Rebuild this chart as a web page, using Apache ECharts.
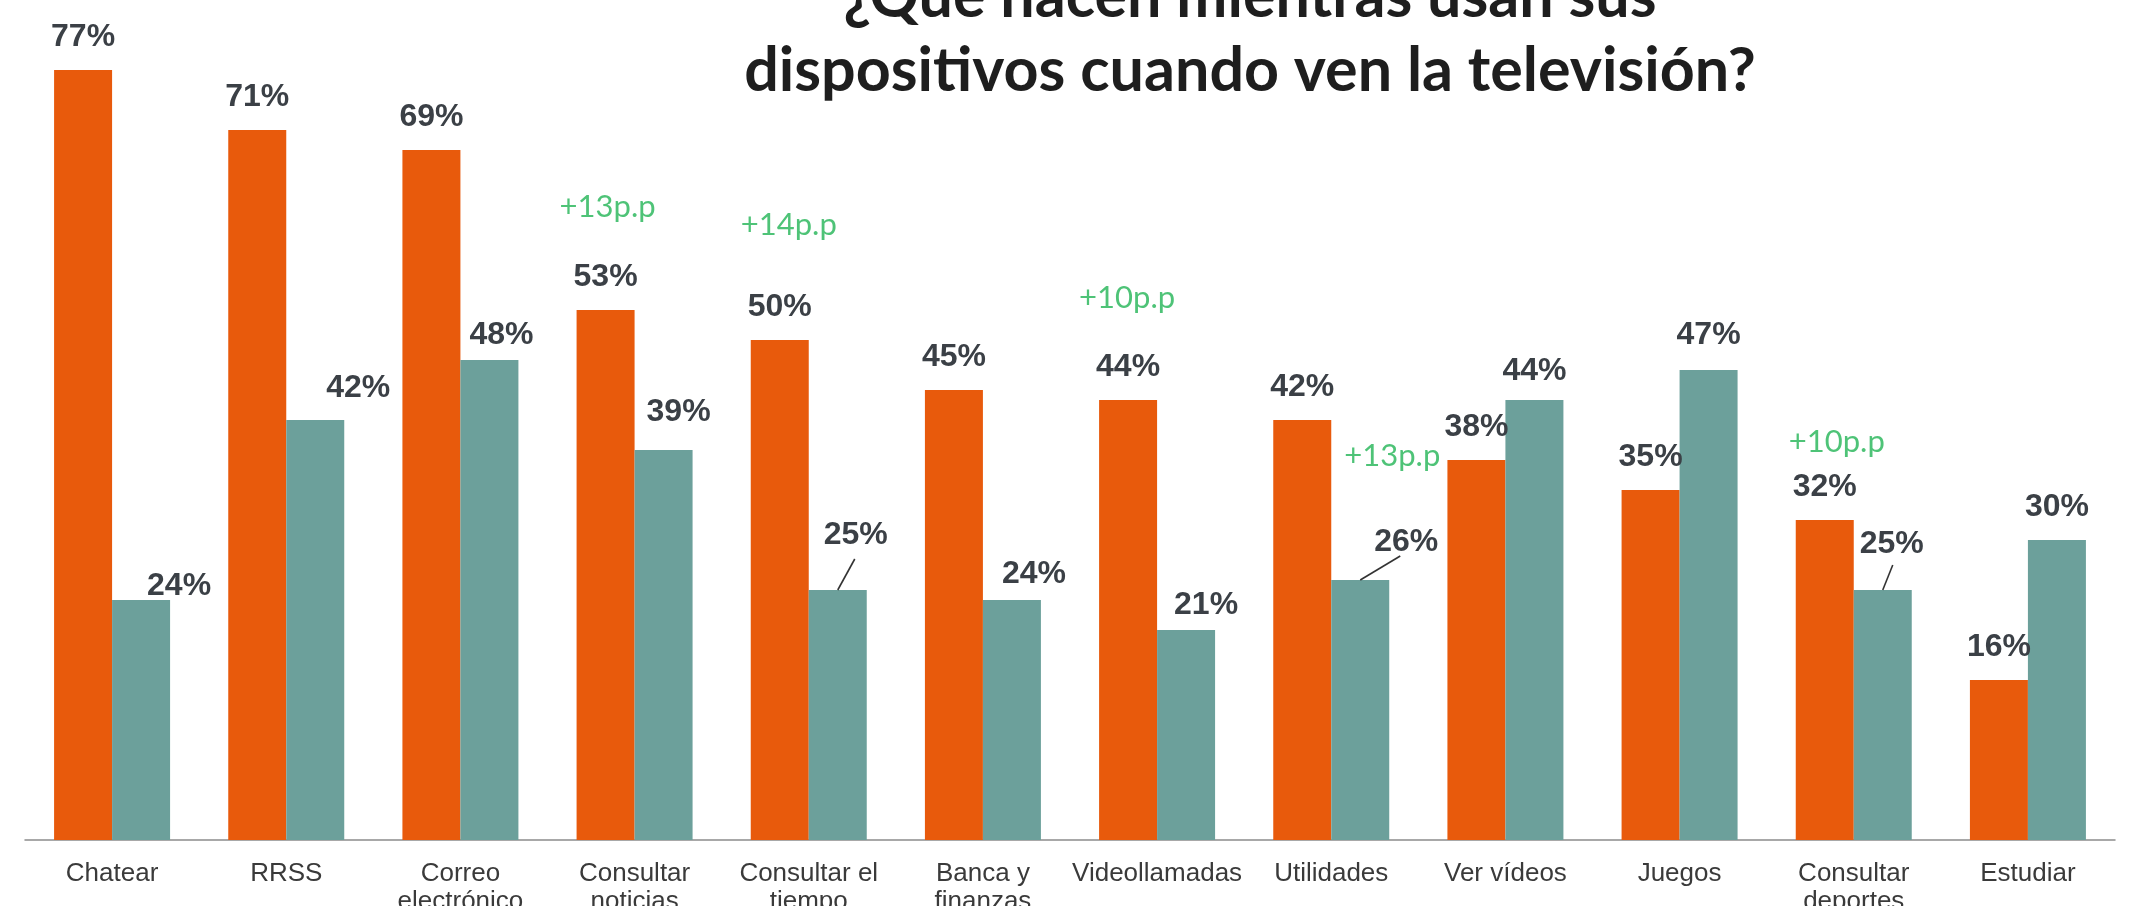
<!DOCTYPE html>
<html><head><meta charset="utf-8">
<script src="https://cdn.jsdelivr.net/npm/echarts@6/dist/echarts.min.js"></script>
<style>html,body{margin:0;padding:0;background:#fff}#c{width:2132px;height:906px}</style>
</head><body><div id="c"></div>
<script>
// ---- data ----
const categories = ['Chatear','RRSS','Correo\nelectrónico','Consultar\nnoticias','Consultar el\ntiempo','Banca y\nfinanzas','Videollamadas','Utilidades','Ver vídeos','Juegos','Consultar\ndeportes','Estudiar'];
const seriesOrange = [77,71,69,53,50,45,44,42,38,35,32,16];
const seriesTeal = [24,42,48,39,25,24,21,26,44,47,25,30];
const annotations = ['','','','+13p.p','+14p.p','','+10p.p','+13p.p','','','+10p.p',''];
const titleLines = ['¿Qué hacen mientras usan sus','dispositivos cuando ven la televisión?'];

// ---- styling / label placement ----
const ORANGE = '#E85A0C', TEAL = '#6CA09B', LABEL = '#3b4046', GREEN = '#22B455';
const LABEL_DIST = 17;
const tealLabelShift = [[38,19],[43,1],[12,8],[15,-5],[18,-22],[22,7],[20,8],[46,-5],[0,4],[0,-2],[9,-13],[0,0]];
// leader line end points, relative (px) to the top-centre of the teal bar
const leaderEnds = {4:[17,-31], 7:[40,-24], 10:[10,-25]};
const annShift = {3:[-27,-103],4:[-20,-115],6:[-30,-102],7:[61,36],10:[-17,-78]};

const valueLabel = {show:true, position:'top', distance:LABEL_DIST, formatter:'{c}%',
  fontFamily:'Liberation Sans, Arial, sans-serif', fontWeight:'bold', fontSize:32, color:LABEL};

const chart = echarts.init(document.getElementById('c'), null, {renderer:'canvas'});
const titleGraphic = {type:'text', x:1250, y:108, z:100,
    style:{text:titleLines.join('\n'), textAlign:'center', textVerticalAlign:'bottom',
      font:'bold 61px Lato, "Open Sans", sans-serif', lineHeight:74, fill:'#1e1e1e'}};
chart.setOption({
  animation:false,
  backgroundColor:'#fff',
  grid:{left:25, right:17, top:0, bottom:66, containLabel:false, outerBoundsMode:'none'},
  xAxis:{type:'category', data:categories,
    axisLine:{lineStyle:{color:'#8c8c8c', width:1.5}},
    axisTick:{length:8, lineStyle:{color:'#8c8c8c', width:1.5}},
    axisLabel:{interval:0, margin:20, fontFamily:'Liberation Sans, Arial, sans-serif', fontSize:26, lineHeight:28, color:'#3a3a3a'}},
  yAxis:{type:'value', min:0, max:84, show:false},
  graphic:[titleGraphic],
  series:[
    {type:'bar', name:'A', data:seriesOrange, barGap:'0%', barCategoryGap:'33.4%',
      itemStyle:{color:ORANGE}, label:valueLabel},
    {type:'bar', name:'B', data:seriesTeal,
      itemStyle:{color:TEAL}, label:valueLabel,
      labelLayout:function(p){const s=tealLabelShift[p.dataIndex]; return {dx:s[0], dy:s[1]};}},
    {type:'scatter', name:'notes', symbolSize:1, itemStyle:{color:'rgba(0,0,0,0)'}, silent:true, z:5,
      data:annotations.map((t,i)=>t?{value:[i, seriesOrange[i]], label:{offset:annShift[i]}}:null).filter(Boolean),
      label:{show:true, position:'inside', formatter:p=>annotations[p.value[0]],
        fontFamily:'Lato, "Open Sans", sans-serif', fontSize:31, color:GREEN}}
  ]
});

// leader lines from teal bar tops to their moved labels
const tealData = chart.getModel().getSeriesByIndex(1).getData();
const leaders = Object.keys(leaderEnds).map(k=>{
  const i = +k;
  const L = tealData.getItemLayout(i);
  const cx = L.x + L.width/2;
  const top = Math.min(L.y, L.y + L.height);
  const e = leaderEnds[i];
  return {type:'line', z:50, silent:true,
    shape:{x1:cx, y1:top, x2:cx + e[0], y2:top + e[1]},
    style:{stroke:'#333', lineWidth:1.6}};
});
chart.setOption({graphic:[titleGraphic].concat(leaders)}, {replaceMerge:['graphic']});
</script></body></html>
